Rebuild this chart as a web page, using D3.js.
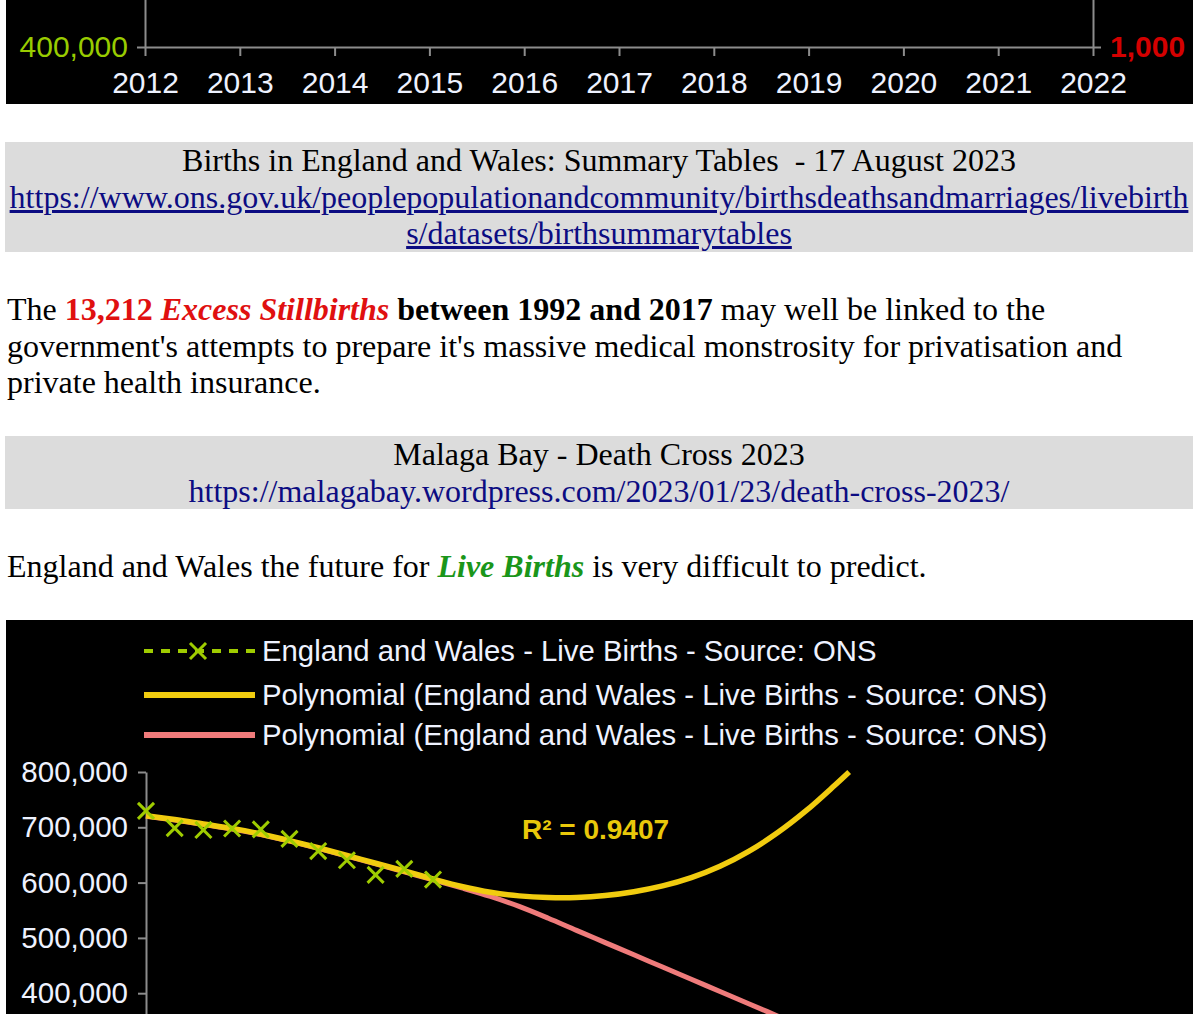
<!DOCTYPE html>
<html>
<head>
<meta charset="utf-8">
<script src="https://cdn.jsdelivr.net/npm/d3@7"></script>
<style>
html, body { margin: 0; overflow: hidden; background: #fff; }
body { font-family: "Liberation Serif", "Times New Roman", serif; font-size: 32px; line-height: 36.7px; color: #000; }
.blk { position: absolute; }
.grey { left: 5px; width: 1188px; background: #dcdcdc; text-align: center; overflow-wrap: anywhere; }
a { color: #0c0c82; }
.nolink { text-decoration: none; }
svg text { font-family: "Liberation Sans", Arial, sans-serif; }
</style>
</head>
<body>
<div id="top" class="blk" style="left:0;top:0"></div>

<div class="blk grey" style="top:142px">Births in England and Wales: Summary Tables&nbsp; - 17 August 2023<br><a href="https://www.ons.gov.uk/peoplepopulationandcommunity/birthsdeathsandmarriages/livebirths/datasets/birthsummarytables">https://www.ons.gov.uk/peoplepopulationandcommunity/birthsdeathsandmarriages/livebirths/datasets/birthsummarytables</a></div>

<div class="blk" style="top:291px;left:7px;width:1186px">The <b style="color:#e01010">13,212 <i>Excess Stillbirths</i></b> <b>between 1992 and 2017</b> may well be linked to the government's attempts to prepare it's massive medical monstrosity for privatisation and private health insurance.</div>

<div class="blk grey" style="top:436px">Malaga Bay - Death Cross 2023<br><a class="nolink" href="https://malagabay.wordpress.com/2023/01/23/death-cross-2023/">https://malagabay.wordpress.com/2023/01/23/death-cross-2023/</a></div>

<div class="blk" style="top:548px;left:7px;width:1186px">England and Wales the future for <b style="color:#1a961a"><i>Live Births</i></b> is very difficult to predict.</div>

<div id="births" class="blk" style="left:0;top:620px"></div>

<script>
// bottom of the previous chart (only the axes are visible)
var topYears = [2012, 2013, 2014, 2015, 2016, 2017, 2018, 2019, 2020, 2021, 2022];
var topLeftTicks = [400000];
var topRightTicks = [1000];

// live births, England and Wales (ONS)
var birthYears = [2012, 2013, 2014, 2015, 2016, 2017, 2018, 2019, 2020, 2021, 2022];
var births = [729674, 698512, 695233, 697852, 696271, 679106, 657076, 640370, 613936, 624828, 605479];

// polynomial trend lines
var yellowYears = [2012, 2013, 2014, 2015, 2016, 2017, 2018, 2019, 2020, 2021, 2022, 2023, 2024, 2025,
                   2026, 2027, 2028, 2029, 2030, 2031, 2032, 2033, 2034, 2035, 2036, 2036.5];
var yellowTrend = [721000, 714000, 706000, 698000, 688000, 676000, 663000, 649000, 635000, 621000, 606500,
                   593000, 582500, 576000, 573000, 573000, 576500, 583500, 594000, 609000, 629500, 656500,
                   690000, 730000, 776000, 800000];
var pinkYears = [2012, 2013, 2014, 2015, 2016, 2017, 2018, 2019, 2020, 2021, 2022, 2023, 2024, 2025,
                 2026, 2027, 2028, 2029, 2030, 2031, 2032, 2033, 2034, 2035];
var pinkTrend = [720000, 713000, 705000, 697000, 687000, 675000, 662000, 648000, 634000, 619500, 605000,
                 590500, 575000, 557000, 536000, 513600, 491500, 469400, 447300, 425200, 403100, 381000,
                 358900, 336800];
var yTicks = [400000, 500000, 600000, 700000, 800000];
var rSquared = "R\u00b2 = 0.9407";

var legendLabels = [
  "England and Wales - Live Births - Source: ONS",
  "Polynomial (England and Wales - Live Births - Source: ONS)",
  "Polynomial (England and Wales - Live Births - Source: ONS)"
];

var axisGrey = "#8c8c8c";
var lightText = "#eef2ff";
var fmt = d3.format(",");

// ---------- top chart fragment ----------
var w = 1193, h1 = 104;
var svg1 = d3.select("#top").append("svg")
        .attr("width", w)
        .attr("height", h1);

svg1.append("rect")
        .attr("x", 6).attr("y", 0)
        .attr("width", w - 6).attr("height", h1)
        .style("fill", "#000");

var x1 = d3.scaleLinear().domain([2012, 2022]).range([145, 1093]);
var yl1 = d3.scaleLinear().domain([400000, 500000]).range([47, -60]);
var yr1 = d3.scaleLinear().domain([1000, 1500]).range([47, -60]);

var xAxis1 = svg1.append("g")
        .attr("transform", "translate(0,47)")
        .call(d3.axisBottom(x1).tickValues(topYears).tickFormat(d3.format("d")).tickSize(9).tickSizeOuter(0));
xAxis1.selectAll("text")
        .attr("y", 35).attr("dy", "0.35em")
        .style("font-size", "30px").style("fill", lightText);

var leftAxis1 = svg1.append("g")
        .attr("transform", "translate(145,0)")
        .call(d3.axisLeft(yl1).tickValues(topLeftTicks).tickFormat(fmt).tickSize(8).tickSizeOuter(0).tickPadding(9));
leftAxis1.selectAll("text")
        .style("font-size", "30px").style("fill", "#99cc00");

var rightAxis1 = svg1.append("g")
        .attr("transform", "translate(1093,0)")
        .call(d3.axisRight(yr1).tickValues(topRightTicks).tickFormat(fmt).tickSize(8).tickSizeOuter(0).tickPadding(9));
rightAxis1.selectAll("text")
        .style("font-size", "30px").style("font-weight", "bold").style("fill", "#d40000");

svg1.selectAll(".domain, .tick line")
        .style("stroke", axisGrey)
        .style("stroke-width", 2);

// ---------- live births chart ----------
var h2 = 394;
var svg2 = d3.select("#births").append("svg")
        .attr("width", w)
        .attr("height", h2);

svg2.append("rect")
        .attr("x", 6).attr("y", 0)
        .attr("width", w - 6).attr("height", h2)
        .style("fill", "#000");

var x2 = d3.scaleLinear().domain([2012, 2022]).range([146, 433]);
var y2 = d3.scaleLinear().domain([300000, 800000]).range([428.5, 152]);

var yAxis2 = svg2.append("g")
        .attr("transform", "translate(146,0)")
        .call(d3.axisLeft(y2).tickValues(yTicks).tickFormat(fmt).tickSize(8).tickSizeOuter(0).tickPadding(10));
yAxis2.selectAll("text")
        .style("font-size", "29.5px").style("fill", lightText);
yAxis2.selectAll(".domain, .tick line")
        .style("stroke", axisGrey)
        .style("stroke-width", 2);

var trend = d3.line()
        .x(function (d) { return x2(d[0]); })
        .y(function (d) { return y2(d[1]); })
        .curve(d3.curveCatmullRom);

svg2.append("path")
        .datum(d3.zip(pinkYears, pinkTrend))
        .attr("d", trend)
        .style("fill", "none")
        .style("stroke", "#ef7b7b")
        .style("stroke-width", 5);

svg2.append("path")
        .datum(d3.zip(yellowYears, yellowTrend))
        .attr("d", trend)
        .style("fill", "none")
        .style("stroke", "#f1cc0f")
        .style("stroke-width", 5.5);

var timesSymbol = d3.symbolTimes || {
  draw: function (context, size) {
    var r = Math.sqrt(size) * 0.6;
    context.moveTo(-r, -r); context.lineTo(r, r);
    context.moveTo(-r, r); context.lineTo(r, -r);
  }
};
var marker = d3.symbol().type(timesSymbol).size(170);

svg2.selectAll("path.mark")
        .data(d3.zip(birthYears, births))
        .enter()
        .append("path")
        .attr("class", "mark")
        .attr("d", marker)
        .attr("transform", function (d) { return "translate(" + x2(d[0]) + "," + y2(d[1]) + ")"; })
        .style("fill", "none")
        .style("stroke", "#9fcc00")
        .style("stroke-width", 3);

svg2.append("text")
        .attr("x", x2(2025.1))
        .attr("y", y2(696800))
        .attr("dy", "0.35em")
        .style("font-size", "28px")
        .style("font-weight", "bold")
        .style("fill", "#e9c80a")
        .text(rSquared);

// legend
var legendY = [31, 75, 115];
var legend = svg2.selectAll("g.legend")
        .data(legendLabels)
        .enter()
        .append("g")
        .attr("class", "legend")
        .attr("transform", function (d, i) { return "translate(0," + legendY[i] + ")"; });

legend.append("line")
        .attr("x1", 144).attr("x2", 255)
        .attr("y1", 0).attr("y2", 0)
        .style("stroke", function (d, i) { return ["#9fcc00", "#f1cc0f", "#ef7b7b"][i]; })
        .style("stroke-width", function (d, i) { return i === 0 ? 4 : 6; })
        .style("stroke-dasharray", function (d, i) { return i === 0 ? "9,8" : null; });

legend.filter(function (d, i) { return i === 0; })
        .append("path")
        .attr("d", marker)
        .attr("transform", "translate(198,0)")
        .style("fill", "none")
        .style("stroke", "#9fcc00")
        .style("stroke-width", 3);

legend.append("text")
        .attr("x", 262)
        .attr("dy", "0.35em")
        .style("font-size", "29.3px")
        .style("fill", lightText)
        .text(function (d) { return d; });
</script>
</body>
</html>
